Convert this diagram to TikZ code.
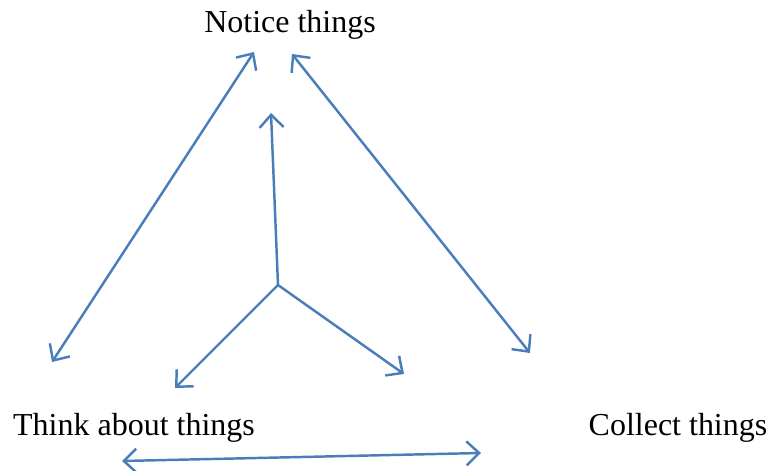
\documentclass[tikz,border=0pt]{standalone}
\usepackage{fontspec}
\setmainfont{Liberation Serif}
\usepackage{tikz}
\usetikzlibrary{arrows.meta}
\definecolor{cLine}{RGB}{74,126,187}
\tikzset{
    label/.style={inner sep=0pt, font=\fontsize{27.3}{30}\selectfont},
    link/.style={draw=cLine, line width=2.1pt, {Straight Barb[length=3.8mm, width=7.2mm]}-{Straight Barb[length=3.8mm, width=7.2mm]}},
    spoke/.style={draw=cLine, line width=2.1pt, -{Straight Barb[length=3.8mm, width=7.2mm]}},
}
\begin{document}
\begin{tikzpicture}[x=0.03cm, y=-0.03cm]
        \useasboundingbox (0,0) rectangle (770,471);
        % labels
        \node[label] (notice) at (290,25){Notice things};
        \node[label] (think) at (134,428){Think about things};
        \node[label] (collect) at (678,428){Collect things};
        % end points
        \coordinate (nl) at (254,52);
        \coordinate (nr) at (292,54);
        \coordinate (tl) at (52,362);
        \coordinate (cr) at (530,353);
        \coordinate (bl) at (122,461);
        \coordinate (br) at (481,453);
        % centre
        \coordinate (hub) at (278,285);
        \coordinate (up) at (271,113);
        \coordinate (dl) at (175,388);
        \coordinate (dr) at (404,374);
        \draw[link](nl) -- (tl);
        \draw[link](nr) -- (cr);
        \draw[link](bl) -- (br);
        \draw[spoke](hub) -- (up);
        \draw[spoke](hub) -- (dl);
        \draw[spoke](hub) -- (dr);
    \end{tikzpicture}
\end{document}
